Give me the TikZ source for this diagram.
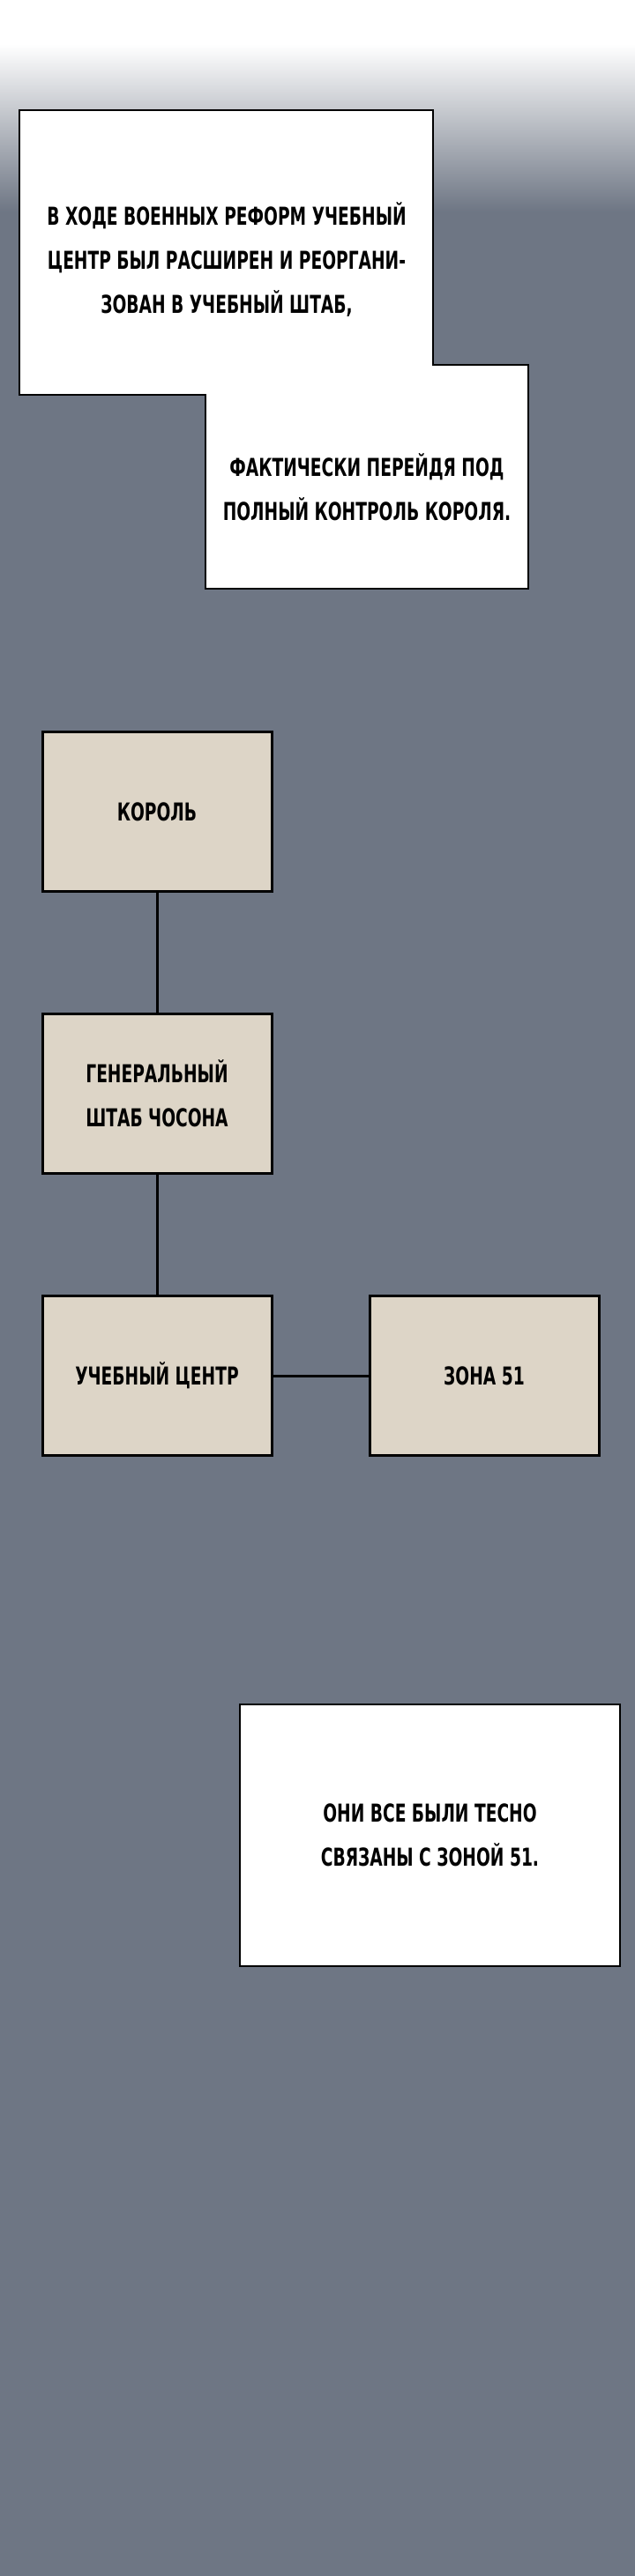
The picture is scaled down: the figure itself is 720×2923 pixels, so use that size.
\documentclass[tikz,border=0pt]{standalone}
\usepackage{fontspec}
\newfontfamily\comicfont[FakeStretch=0.74]{DejaVu Sans Condensed}
\usetikzlibrary{positioning}
\definecolor{bgray}{HTML}{6E7684}
\definecolor{paper}{HTML}{DDD5C7}
\begin{document}
\begin{tikzpicture}
        [x=1pt,y=-1pt,
        every node/.style={align=center,font=\comicfont\bfseries\fontsize{28}{50}\selectfont},
        orgbox/.style={rectangle,draw=black,line width=3pt,fill=paper,minimum width=260pt,minimum height=181pt,inner sep=0pt},
        link/.style={line width=3pt},
        bubble/.style={draw=black,line width=2pt,fill=white}
        ]
        \fill[bgray] (0,0) rectangle (720,2923);
        \shade[top color=white,bottom color=bgray] (0,50) rectangle (720,240);
        \fill[white] (0,0) rectangle (720,50);
        % speech boxes
        \draw[bubble] (22,125) -- (491,125) -- (491,414) -- (599,414) -- (599,668) -- (233,668) -- (233,448) -- (22,448) -- cycle;
        \node (text-1) at (257,295) {В ХОДЕ ВОЕННЫХ РЕФОРМ УЧЕБНЫЙ\\ЦЕНТР БЫЛ РАСШИРЕН И РЕОРГАНИ-\\ЗОВАН В УЧЕБНЫЙ ШТАБ,};
        \node (text-2) at (416,553) {ФАКТИЧЕСКИ ПЕРЕЙДЯ ПОД\\ПОЛНЫЙ КОНТРОЛЬ КОРОЛЯ.};
        % chart
        \node[orgbox] (king) at (178,921) {КОРОЛЬ};
        \node[orgbox] (staff) at (178,1241) {ГЕНЕРАЛЬНЫЙ\\ШТАБ ЧОСОНА};
        \node[orgbox] (center) at (178,1561) {УЧЕБНЫЙ ЦЕНТР};
        \node[orgbox] (zone) at (549,1561) {ЗОНА 51};
        \draw[link] (king) -- (staff);
        \draw[link] (staff) -- (center);
        \draw[link] (center) -- (zone);
        % bottom box
        \node[bubble,minimum width=431pt,minimum height=297pt] (text-3) at (487.5,2082.5) {ОНИ ВСЕ БЫЛИ ТЕСНО\\СВЯЗАНЫ С ЗОНОЙ 51.};
    \end{tikzpicture}
\end{document}
